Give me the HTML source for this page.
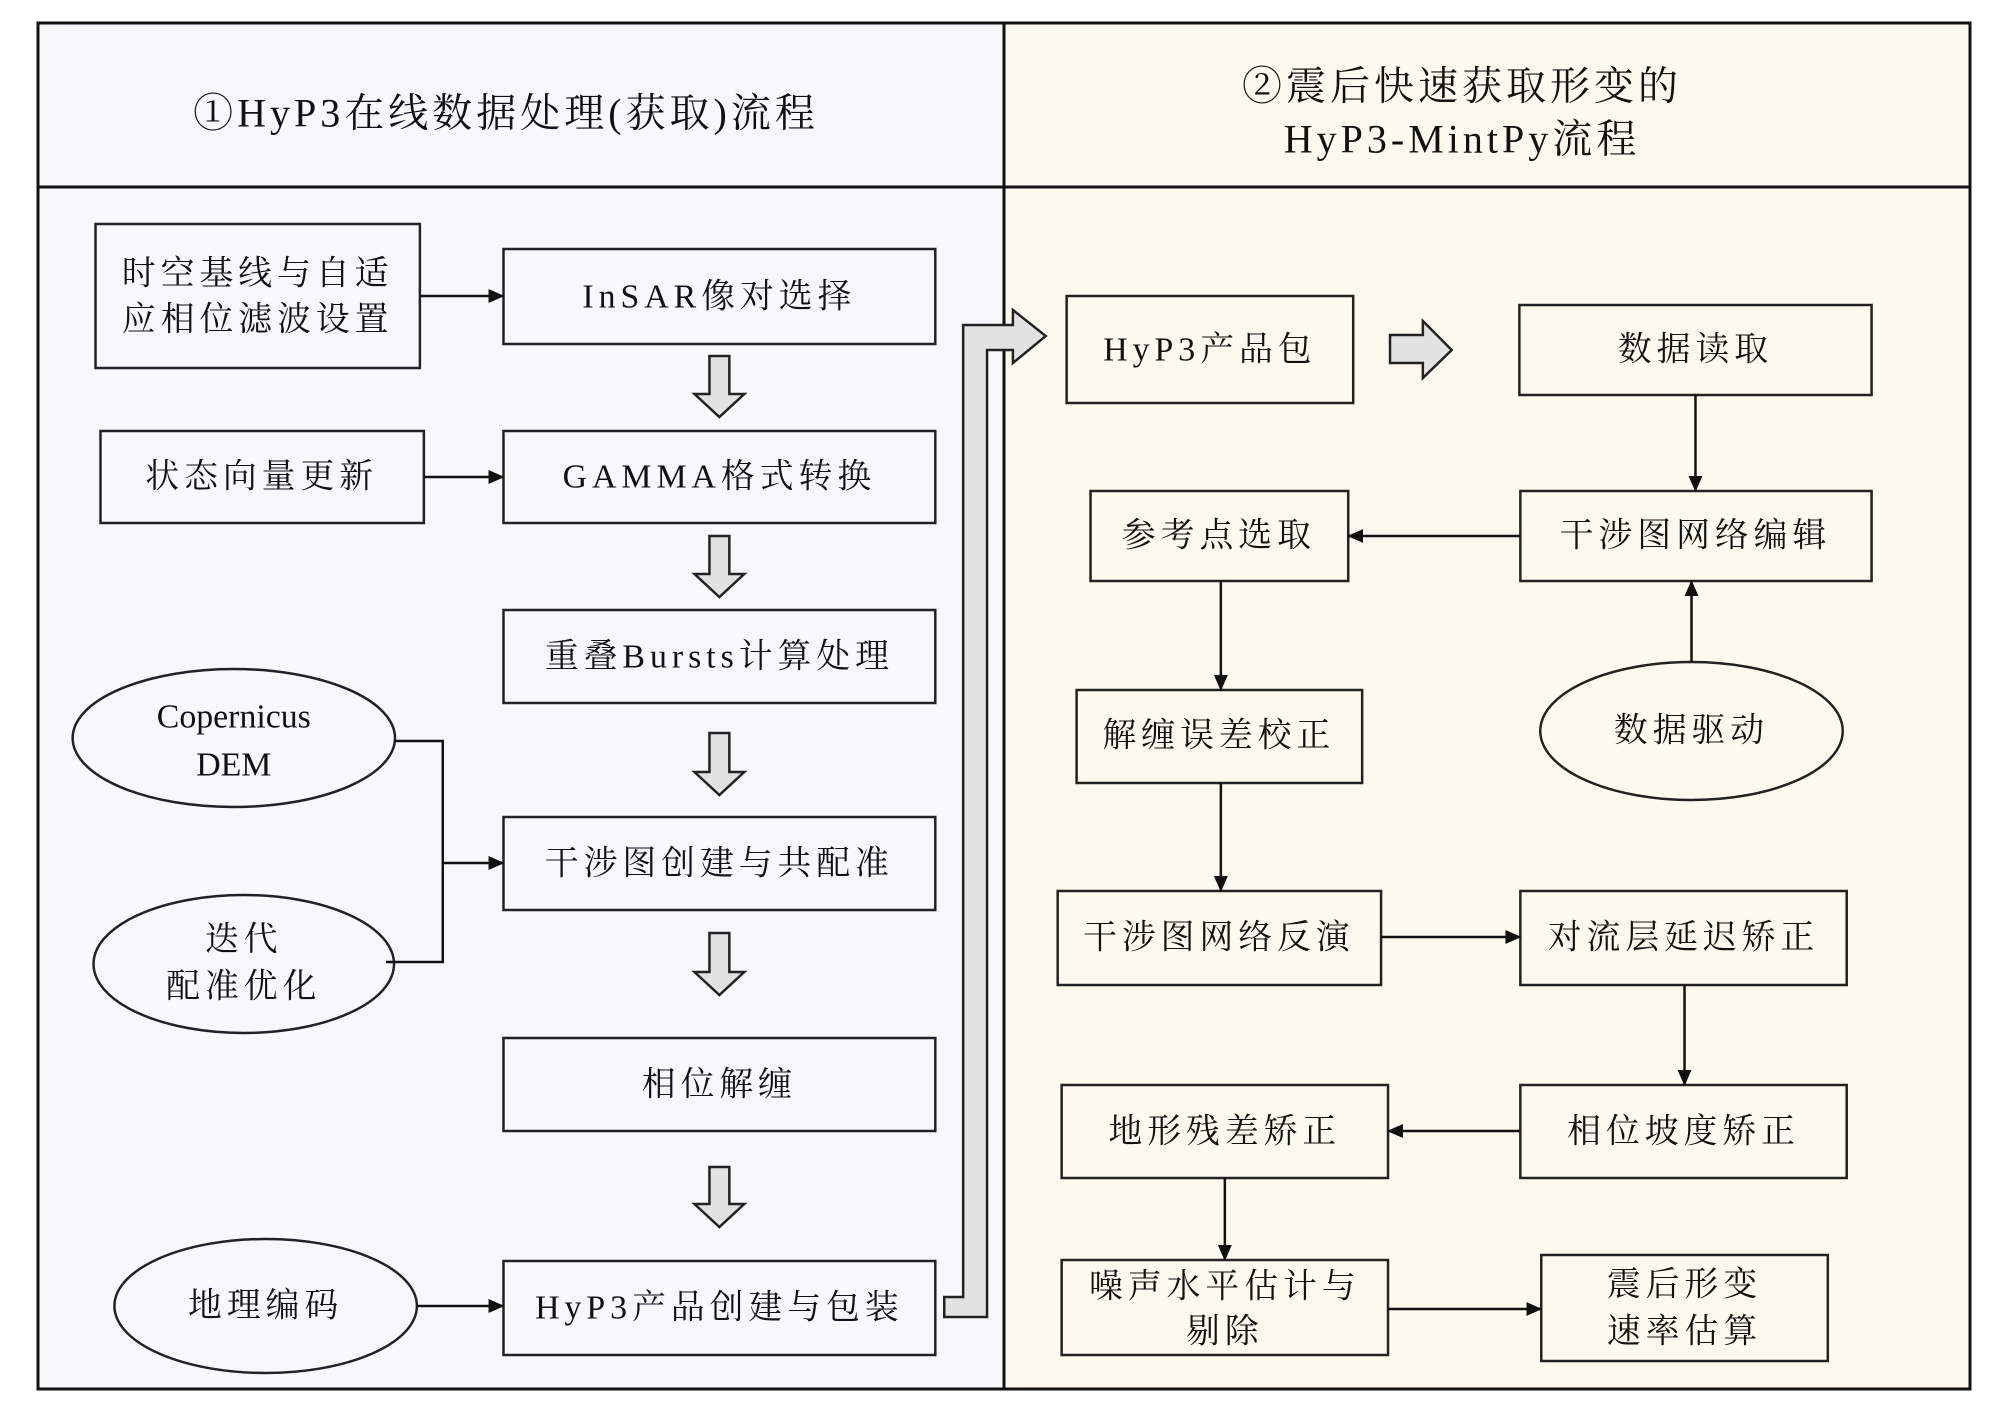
<!DOCTYPE html>
<html><head><meta charset="utf-8"><style>
html,body{margin:0;padding:0;background:#fff;}
svg{display:block;}
text{font-family:"Liberation Serif","Noto Serif CJK SC",serif;font-size:34px;fill:#111;text-anchor:middle;dominant-baseline:central;letter-spacing:5px;}
.h{font-size:40px;letter-spacing:4px;}
</style></head><body>
<svg width="2000" height="1416" viewBox="0 0 2000 1416" xmlns="http://www.w3.org/2000/svg">
<defs>
<marker id="b" viewBox="0 0 16 16" markerWidth="16" markerHeight="16" refX="15" refY="8" orient="auto" markerUnits="userSpaceOnUse"><path d="M0,1 L16,8 L0,15 z" fill="#111"/></marker>
</defs>
<rect x="38" y="23" width="966" height="1366" fill="#f7f7fc"/>
<rect x="1004" y="23" width="966" height="1366" fill="#fdf9ee"/>
<g fill="none" stroke="#111" stroke-width="3">
<rect x="38" y="23" width="1932" height="1366"/>
<line x1="1004" y1="23" x2="1004" y2="1389"/>
<line x1="38" y1="187" x2="1970" y2="187"/>
</g>
<text class="h" x="506" y="113">①HyP3在线数据处理(获取)流程</text>
<text class="h" x="1462" y="86">②震后快速获取形变的</text>
<text class="h" x="1462" y="139">HyP3-MintPy流程</text>

<g transform="scale(0.995,1)">
<g fill="none" stroke="#222" stroke-width="2.5">
<rect x="96" y="224" width="326" height="144"/>
<rect x="506" y="249" width="434" height="95"/>
<rect x="101" y="431" width="325" height="92"/>
<rect x="506" y="431" width="434" height="92"/>
<rect x="506" y="610" width="434" height="93"/>
<rect x="506" y="817" width="434" height="93"/>
<rect x="506" y="1038" width="434" height="93"/>
<rect x="506" y="1261" width="434" height="94"/>
<ellipse cx="235" cy="738" rx="162" ry="69"/>
<ellipse cx="245" cy="964" rx="151" ry="69"/>
<ellipse cx="267" cy="1306" rx="152" ry="67"/>

<rect x="1072" y="296" width="288" height="107"/>
<rect x="1527" y="305" width="354" height="90"/>
<rect x="1096" y="491" width="259" height="90"/>
<rect x="1528" y="491" width="353" height="90"/>
<ellipse cx="1700" cy="731" rx="152" ry="69"/>
<rect x="1082" y="690" width="287" height="93"/>
<rect x="1063" y="891" width="325" height="94"/>
<rect x="1528" y="891" width="328" height="94"/>
<rect x="1067" y="1085" width="328" height="93"/>
<rect x="1528" y="1085" width="328" height="93"/>
<rect x="1067" y="1260" width="328" height="95"/>
<rect x="1549" y="1255" width="288" height="106"/>
</g>

<g stroke="#111" stroke-width="2.5" fill="none" marker-end="url(#b)">
<line x1="422" y1="296" x2="506" y2="296"/>
<line x1="426" y1="477" x2="506" y2="477"/>
<line x1="419" y1="1306" x2="506" y2="1306"/>
<line x1="445" y1="863" x2="506" y2="863"/>
<line x1="1704" y1="395" x2="1704" y2="491"/>
<line x1="1528" y1="536" x2="1355" y2="536"/>
<line x1="1700" y1="662" x2="1700" y2="581"/>
<line x1="1227" y1="581" x2="1227" y2="690"/>
<line x1="1227" y1="783" x2="1227" y2="891"/>
<line x1="1388" y1="937" x2="1528" y2="937"/>
<line x1="1693" y1="985" x2="1693" y2="1085"/>
<line x1="1528" y1="1131" x2="1395" y2="1131"/>
<line x1="1231" y1="1178" x2="1231" y2="1260"/>
<line x1="1395" y1="1309" x2="1549" y2="1309"/>
</g>
<polyline points="396,741 445,741 445,962 388,962" fill="none" stroke="#111" stroke-width="2.5"/>

<g fill="#e2e2e2" stroke="#222" stroke-width="2.5">
<path d="M713,356 h20 v38 h15 l-25,23 l-25,-23 h15 z"/>
<path d="M713,536 h20 v38 h15 l-25,23 l-25,-23 h15 z"/>
<path d="M713,733 h20 v39 h15 l-25,23 l-25,-23 h15 z"/>
<path d="M713,933 h20 v39 h15 l-25,23 l-25,-23 h15 z"/>
<path d="M713,1167 h20 v37 h15 l-25,23 l-25,-23 h15 z"/>
<path d="M1397,335 h33 v-14 l29,29 l-29,28 v-15 h-33 z"/>
<path d="M949,1297 h19 v-972 h50 v-15 l33,26 l-33,27 v-13 h-26 v967 h-43 z"/>
</g>

<text x="259" y="274">时空基线与自适</text>
<text x="259" y="320">应相位滤波设置</text>
<text x="723" y="297">InSAR像对选择</text>
<text x="263" y="477">状态向量更新</text>
<text x="723" y="477">GAMMA格式转换</text>
<text x="723" y="657">重叠Bursts计算处理</text>
<text x="723" y="864">干涉图创建与共配准</text>
<text x="723" y="1085">相位解缠</text>
<text x="723" y="1308">HyP3产品创建与包装</text>
<text x="235" y="717" style="letter-spacing:0">Copernicus</text>
<text x="235" y="765" style="letter-spacing:0">DEM</text>
<text x="245" y="940">迭代</text>
<text x="245" y="987">配准优化</text>
<text x="267" y="1306">地理编码</text>

<text x="1216" y="350">HyP3产品包</text>
<text x="1704" y="350">数据读取</text>
<text x="1225" y="536">参考点选取</text>
<text x="1704" y="536">干涉图网络编辑</text>
<text x="1700" y="731">数据驱动</text>
<text x="1225" y="736">解缠误差校正</text>
<text x="1225" y="938">干涉图网络反演</text>
<text x="1692" y="938">对流层延迟矫正</text>
<text x="1231" y="1132">地形残差矫正</text>
<text x="1692" y="1132">相位坡度矫正</text>
<text x="1231" y="1287">噪声水平估计与</text>
<text x="1231" y="1332">剔除</text>
<text x="1693" y="1285">震后形变</text>
<text x="1693" y="1332">速率估算</text>
</g>
</svg>
</body></html>
